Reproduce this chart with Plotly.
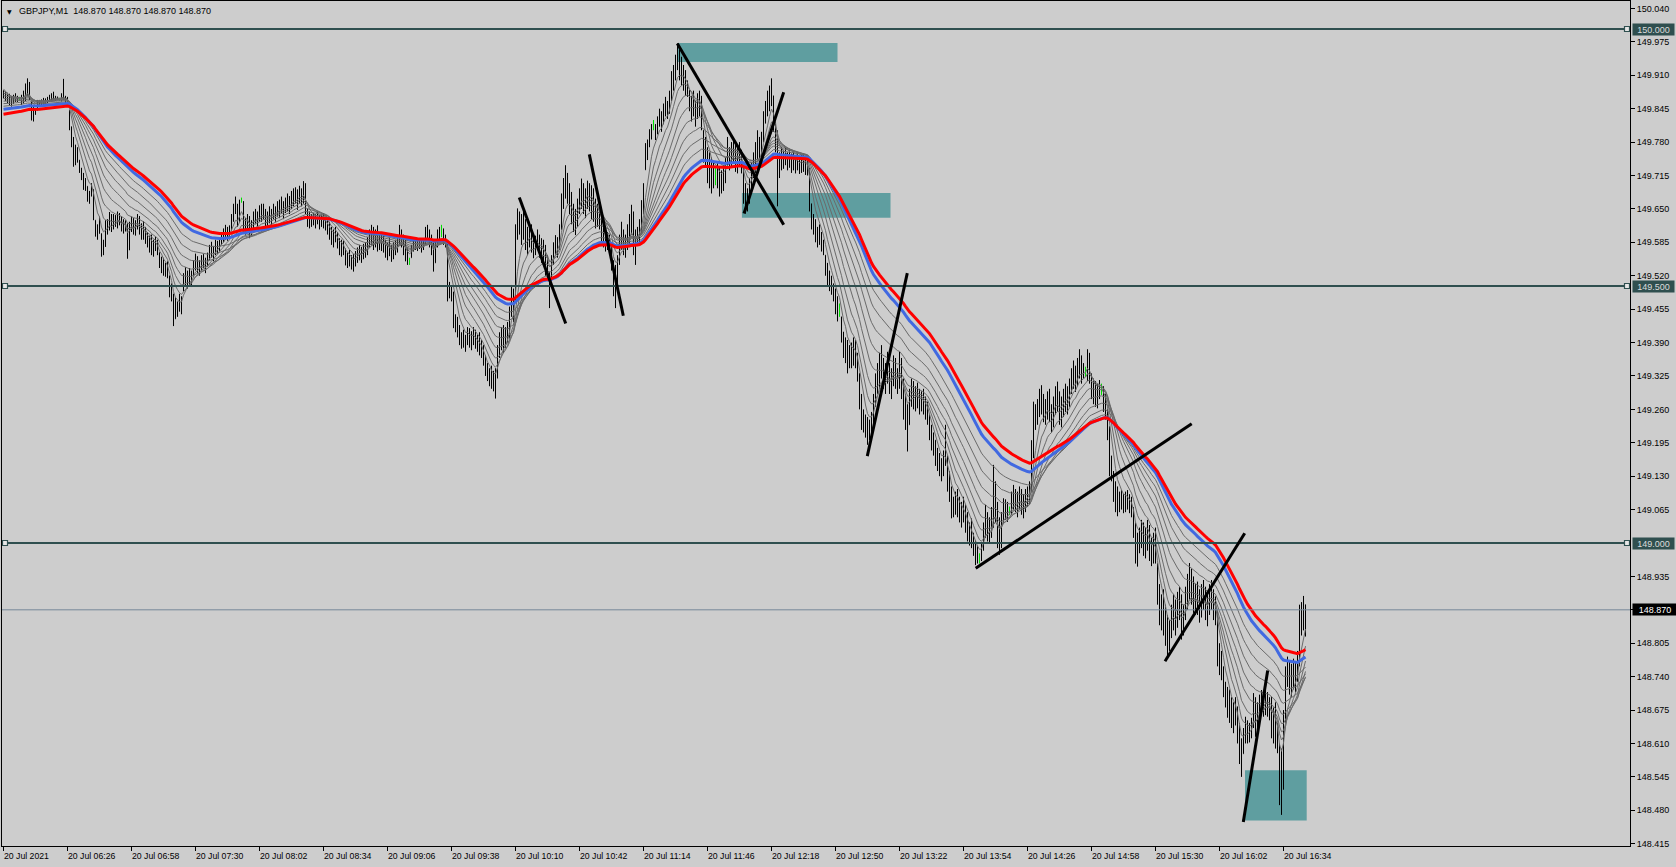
import plotly.graph_objects as go

# ---------------- data (prices in thousandths above 148.000) ----------------
BASE = 148.0
HI = [
1881,1878,1876,1874,1870,1872,1875,1870,1868,1872,
1880,1894,1904,1897,1858,1850,1846,1862,1862,1863,
1866,1865,1868,1872,1875,1878,1870,1868,1866,1875,
1903,1870,1868,1842,1810,1790,1775,1770,1745,1730,
1720,1710,1694,1685,1700,1688,1628,1620,1635,1602,
1590,1628,1630,1644,1640,1640,1638,1645,1642,1636,
1630,1628,1622,1625,1635,1632,1628,1640,1636,1622,
1626,1615,1605,1598,1600,1590,1596,1590,1565,1557,
1555,1545,1548,1520,1505,1485,1478,1470,1485,1480,
1525,1537,1530,1535,1530,1550,1563,1558,1550,1560,
1562,1555,1565,1580,1586,1578,1590,1588,1595,1605,
1612,1619,1615,1618,1640,1660,1674,1660,1668,1672,
1665,1632,1640,1636,1628,1645,1650,1645,1657,1660,
1660,1650,1645,1655,1650,1660,1655,1665,1668,1674,
1665,1672,1680,1675,1685,1690,1692,1688,1695,1690,
1704,1700,1650,1645,1640,1642,1640,1645,1638,1640,
1642,1635,1630,1625,1615,1610,1615,1605,1593,1590,
1588,1573,1565,1570,1560,1562,1568,1575,1580,1576,
1582,1585,1595,1610,1619,1615,1610,1618,1605,1600,
1598,1590,1585,1593,1580,1585,1590,1595,1619,1610,
1600,1590,1575,1555,1580,1590,1593,1590,1592,1588,
1590,1615,1619,1610,1600,1585,1590,1610,1615,1619,
1612,1600,1586,1508,1500,1489,1445,1440,1424,1410,
1415,1405,1420,1418,1412,1420,1415,1405,1410,1395,
1385,1365,1350,1340,1345,1335,1340,1385,1410,1420,
1424,1420,1430,1460,1502,1495,1620,1651,1645,1640,
1645,1630,1615,1625,1620,1600,1598,1610,1600,1593,
1590,1580,1560,1528,1560,1585,1599,1595,1620,1680,
1710,1735,1720,1700,1683,1660,1650,1670,1690,1709,
1700,1690,1705,1700,1696,1690,1670,1660,1655,1632,
1620,1610,1605,1600,1580,1550,1541,1560,1600,1625,
1610,1600,1620,1640,1658,1645,1610,1615,1630,1667,
1700,1778,1785,1805,1815,1823,1815,1830,1845,1840,
1855,1868,1860,1880,1918,1930,1950,1972,1960,1946,
1930,1920,1900,1881,1870,1880,1860,1875,1880,1870,
1803,1790,1770,1760,1750,1740,1732,1739,1730,1725,
1735,1750,1790,1770,1780,1785,1775,1770,1780,1765,
1730,1700,1690,1710,1740,1760,1780,1803,1790,1800,
1840,1860,1880,1890,1904,1870,1820,1803,1760,1770,
1765,1770,1760,1765,1758,1762,1755,1760,1752,1755,
1758,1750,1748,1730,1660,1640,1630,1615,1620,1605,
1590,1560,1545,1530,1520,1505,1495,1480,1466,1440,
1411,1400,1395,1385,1390,1400,1395,1370,1330,1290,
1260,1250,1245,1240,1255,1290,1330,1350,1370,1385,
1360,1350,1372,1350,1340,1365,1360,1340,1372,1360,
1320,1290,1270,1300,1320,1315,1305,1312,1300,1295,
1300,1285,1275,1250,1230,1215,1200,1185,1175,1165,
1180,1230,1170,1140,1110,1090,1100,1105,1090,1080,
1090,1075,1060,1040,1048,1020,1005,995,980,1000,
1040,1074,1060,1050,1070,1152,1120,1080,1050,1060,
1087,1085,1080,1071,1100,1113,1105,1100,1110,1105,
1095,1105,1110,1120,1200,1275,1270,1280,1300,1307,
1290,1280,1295,1300,1270,1285,1305,1314,1295,1285,
1300,1310,1305,1320,1340,1355,1345,1360,1377,1365,
1350,1343,1377,1370,1330,1320,1315,1310,1317,1310,
1305,1290,1260,1227,1170,1140,1120,1110,1100,1103,
1095,1100,1103,1095,1090,1070,1040,1020,1030,1045,
1040,1030,1045,1035,1010,1020,1030,960,920,900,
910,880,860,850,880,900,890,905,915,900,
880,915,940,961,950,935,920,925,910,920,
928,915,900,920,928,910,896,870,805,790,
760,730,720,715,700,690,700,682,650,620,
640,662,655,650,660,708,700,690,705,714,
710,712,710,700,701,680,690,650,610,600,
675,760,779,770,765,775,770,790,880,885,
897,880]
LO = [
1865,1860,1856,1852,1849,1855,1858,1858,1860,1852,
1855,1860,1870,1862,1822,1820,1833,1842,1849,1852,
1852,1853,1856,1858,1860,1862,1860,1862,1860,1859,
1862,1855,1850,1803,1770,1732,1735,1740,1720,1706,
1687,1685,1664,1660,1674,1628,1596,1590,1602,1557,
1560,1576,1600,1608,1605,1610,1615,1612,1618,1606,
1602,1606,1553,1570,1605,1600,1598,1610,1600,1590,
1590,1582,1575,1565,1560,1557,1568,1560,1535,1525,
1520,1518,1515,1478,1470,1422,1436,1440,1450,1445,
1490,1500,1495,1500,1498,1518,1530,1525,1520,1530,
1535,1525,1538,1550,1555,1548,1560,1562,1568,1580,
1585,1590,1588,1592,1608,1625,1640,1615,1625,1662,
1606,1600,1610,1593,1598,1612,1620,1612,1625,1625,
1630,1615,1610,1622,1618,1630,1625,1635,1632,1640,
1630,1642,1645,1640,1650,1655,1660,1648,1660,1655,
1660,1640,1615,1612,1615,1618,1612,1620,1610,1615,
1612,1608,1600,1590,1580,1575,1585,1573,1560,1557,
1560,1540,1535,1538,1532,1528,1538,1545,1550,1545,
1552,1555,1560,1575,1580,1570,1575,1567,1570,1568,
1565,1555,1550,1558,1547,1552,1560,1565,1580,1575,
1560,1548,1541,1541,1555,1567,1570,1568,1572,1565,
1570,1580,1590,1575,1560,1528,1545,1575,1585,1595,
1580,1575,1470,1476,1470,1418,1410,1400,1385,1378,
1380,1372,1385,1380,1375,1385,1378,1372,1365,1360,
1345,1325,1315,1305,1300,1295,1281,1320,1360,1375,
1370,1380,1390,1398,1440,1430,1470,1590,1600,1580,
1590,1570,1560,1575,1565,1554,1560,1570,1555,1545,
1540,1520,1510,1457,1510,1541,1560,1555,1570,1610,
1650,1670,1660,1640,1620,1605,1599,1615,1640,1650,
1640,1632,1650,1645,1630,1625,1612,1615,1610,1580,
1575,1567,1570,1560,1530,1480,1457,1500,1541,1570,
1560,1555,1570,1580,1600,1560,1541,1580,1585,1600,
1640,1726,1745,1770,1785,1803,1784,1795,1810,1800,
1815,1830,1825,1835,1860,1880,1900,1920,1900,1890,
1880,1870,1868,1840,1820,1830,1810,1825,1830,1803,
1740,1730,1700,1690,1680,1690,1696,1690,1674,1680,
1685,1700,1730,1725,1730,1740,1722,1719,1735,1719,
1660,1641,1645,1660,1690,1710,1720,1745,1730,1740,
1780,1816,1830,1840,1850,1800,1760,1655,1710,1725,
1728,1735,1725,1730,1720,1725,1719,1725,1718,1720,
1722,1716,1715,1645,1610,1600,1585,1575,1580,1567,
1560,1520,1500,1490,1483,1470,1445,1431,1440,1390,
1360,1350,1330,1340,1340,1345,1340,1314,1260,1220,
1215,1205,1191,1200,1210,1230,1265,1290,1300,1320,
1300,1290,1310,1290,1280,1305,1300,1290,1300,1280,
1240,1220,1178,1230,1265,1260,1256,1262,1250,1256,
1250,1240,1230,1200,1180,1170,1150,1140,1130,1120,
1130,1150,1100,1080,1048,1050,1055,1050,1040,1030,
1040,1020,1003,995,990,975,957,960,960,965,
985,1010,1003,1000,1010,1030,1040,990,977,990,
1040,1045,1041,1054,1055,1065,1060,1050,1065,1055,
1048,1060,1070,1075,1100,1165,1220,1230,1245,1250,
1235,1230,1240,1235,1215,1225,1250,1255,1230,1225,
1245,1255,1250,1265,1290,1300,1294,1305,1320,1310,
1320,1323,1315,1310,1280,1270,1265,1262,1280,1288,
1255,1240,1200,1130,1120,1080,1060,1052,1060,1065,
1058,1060,1065,1058,1050,1010,960,954,980,990,
975,970,985,965,955,960,960,880,840,830,
820,800,779,790,815,830,820,835,850,812,
820,850,870,890,880,864,860,860,845,855,
870,850,838,860,870,850,840,760,743,733,
700,680,660,650,640,630,645,610,570,545,
590,610,610,612,620,640,623,630,655,670,
662,665,662,655,620,610,600,591,490,471,
520,650,720,705,701,715,710,730,760,820,
830,818]
CL = [
1872,1866,1862,1858,1855,1866,1862,1864,1864,1860,
1876,1885,1880,1866,1830,1838,1840,1858,1855,1860,
1862,1858,1865,1868,1870,1866,1868,1865,1865,1870,
1868,1860,1855,1810,1778,1745,1760,1750,1728,1712,
1695,1700,1670,1678,1690,1640,1605,1600,1615,1565,
1582,1615,1622,1630,1612,1632,1620,1638,1625,1612,
1620,1610,1568,1615,1628,1610,1620,1632,1605,1610,
1598,1595,1580,1590,1568,1578,1585,1565,1540,1548,
1528,1535,1520,1485,1478,1435,1448,1462,1458,1470,
1515,1510,1522,1508,1525,1540,1552,1535,1545,1555,
1540,1548,1558,1570,1562,1572,1582,1575,1590,1598,
1592,1610,1600,1612,1635,1650,1645,1622,1664,1664,
1615,1625,1618,1605,1620,1638,1628,1640,1635,1650,
1638,1630,1640,1632,1645,1640,1650,1645,1660,1648,
1655,1662,1652,1668,1660,1680,1668,1675,1685,1668,
1690,1650,1635,1625,1632,1628,1635,1630,1622,1632,
1620,1625,1610,1598,1588,1600,1592,1580,1568,1580,
1565,1548,1555,1545,1550,1540,1560,1565,1572,1560,
1575,1570,1588,1598,1590,1605,1585,1600,1580,1590,
1575,1568,1575,1565,1560,1572,1568,1585,1600,1590,
1570,1560,1550,1550,1575,1582,1578,1585,1580,1575,
1585,1605,1598,1585,1570,1540,1580,1600,1605,1605,
1590,1585,1480,1490,1478,1430,1425,1412,1395,1400,
1388,1392,1410,1395,1400,1405,1390,1385,1375,1370,
1355,1335,1322,1330,1310,1318,1325,1370,1395,1385,
1410,1400,1420,1450,1490,1470,1600,1630,1615,1625,
1605,1585,1595,1610,1580,1570,1588,1585,1565,1580,
1555,1545,1525,1500,1550,1575,1580,1590,1610,1665,
1690,1700,1680,1660,1640,1625,1640,1655,1675,1690,
1665,1675,1695,1660,1680,1650,1630,1645,1625,1600,
1590,1585,1580,1575,1545,1500,1520,1545,1585,1590,
1575,1590,1600,1620,1630,1580,1590,1600,1615,1650,
1690,1760,1775,1795,1810,1810,1800,1822,1835,1815,
1845,1850,1840,1870,1900,1915,1935,1940,1920,1905,
1910,1885,1880,1850,1860,1840,1830,1865,1845,1815,
1760,1750,1720,1740,1700,1725,1725,1720,1700,1710,
1728,1735,1760,1745,1770,1755,1740,1760,1745,1730,
1680,1660,1675,1700,1725,1740,1765,1780,1750,1790,
1825,1850,1845,1875,1880,1815,1775,1720,1735,1750,
1755,1745,1750,1740,1748,1735,1745,1740,1730,1745,
1735,1740,1725,1660,1625,1615,1600,1605,1590,1580,
1570,1535,1510,1505,1495,1480,1460,1455,1455,1400,
1380,1390,1350,1370,1355,1375,1360,1330,1275,1240,
1235,1220,1210,1230,1245,1275,1310,1325,1340,1335,
1320,1340,1330,1305,1325,1345,1320,1310,1350,1300,
1260,1250,1230,1280,1300,1280,1295,1285,1270,1285,
1265,1260,1245,1215,1195,1200,1170,1160,1150,1140,
1170,1160,1120,1095,1060,1075,1065,1085,1055,1060,
1050,1035,1015,1010,1000,985,975,972,972,990,
1030,1050,1020,1040,1025,1100,1060,1010,1000,1040,
1075,1060,1065,1065,1085,1090,1070,1085,1095,1075,
1080,1090,1100,1110,1180,1250,1240,1265,1285,1270,
1250,1265,1280,1250,1240,1270,1290,1275,1250,1270,
1285,1295,1280,1305,1320,1335,1310,1345,1350,1330,
1335,1335,1360,1325,1300,1295,1285,1300,1298,1298,
1270,1265,1215,1150,1135,1095,1075,1070,1085,1080,
1075,1090,1080,1070,1065,1030,980,1000,1010,1020,
1000,1010,1025,980,970,1005,975,900,860,870,
845,825,810,830,850,870,840,880,870,835,
860,890,910,920,900,885,895,880,870,900,
890,865,870,905,885,880,860,780,760,750,
715,690,700,670,660,675,660,630,590,575,
620,640,625,640,650,690,650,675,695,700,
690,705,685,680,640,660,630,610,520,560,
650,740,750,725,750,740,755,770,860,840,
880,870]
OPEN0 = 1868
DOJI = [8, 28, 119, 203, 219, 325, 356, 418, 488, 503, 541, 549]

GREY_PERIODS = [6, 10, 15, 21, 28, 36, 45, 55]
GREY_START = [1888, 1882, 1876, 1870, 1864, 1859, 1854, 1849]
BLUE_PERIOD, BLUE_START = 67, 1843
RED_PERIOD, RED_START = 75, 1833

LEVELS = [150.000, 149.500, 149.000]
LAST_PRICE = 148.870
SYMBOL_TEXT = "GBPJPY,M1\u00a0\u00a0148.870 148.870 148.870 148.870"

Y_TICKS = [148.415, 148.480, 148.545, 148.610, 148.675, 148.740, 148.805, 148.870,
           148.935, 149.065, 149.130, 149.195, 149.260, 149.325, 149.390,
           149.455, 149.520, 149.585, 149.650, 149.715, 149.780, 149.845, 149.910,
           149.975, 150.040]
X_TICK_LABELS = ["20 Jul 2021", "20 Jul 06:26", "20 Jul 06:58", "20 Jul 07:30", "20 Jul 08:02",
                 "20 Jul 08:34", "20 Jul 09:06", "20 Jul 09:38", "20 Jul 10:10", "20 Jul 10:42",
                 "20 Jul 11:14", "20 Jul 11:46", "20 Jul 12:18", "20 Jul 12:50", "20 Jul 13:22",
                 "20 Jul 13:54", "20 Jul 14:26", "20 Jul 14:58", "20 Jul 15:30", "20 Jul 16:02",
                 "20 Jul 16:34"]
X_TICK_STEP = 32  # bars (minutes) between time labels

# drawn objects: (bar0, price0, bar1, price1)
ZONES = [(337.1, 149.936, 417.0, 149.973),
         (369.2, 149.633, 443.5, 149.681),
         (620.75, 148.460, 651.6, 148.558)]
TRENDLINES = [(336.9, 149.972, 390.1, 149.619),
              (370.25, 149.641, 390.1, 149.877),
              (257.9, 149.672, 281.1, 149.427),
              (292.9, 149.756, 309.9, 149.442),
              (431.9, 149.169, 451.9, 149.525),
              (486.1, 148.951, 594.1, 149.232),
              (580.75, 148.770, 620.6, 149.019),
              (619.9, 148.457, 632.1, 148.752)]

assert len(HI) == len(LO) == len(CL), (len(HI), len(LO), len(CL))
N = len(CL)

# ---------------- derived series ----------------
hi = [BASE + v / 1000 for v in HI]
lo = [BASE + v / 1000 for v in LO]
cl = [BASE + v / 1000 for v in CL]
op = []
prev = BASE + OPEN0 / 1000
for i in range(N):
    op.append(min(max(prev, lo[i]), hi[i]))
    prev = cl[i]


def ema(values, period, start):
    a = 2.0 / (period + 1)
    out, e = [], BASE + start / 1000
    for v in values:
        e = e + a * (v - e)
        out.append(e)
    return out


BG = "#cdcdcd"
FONT = "Liberation Sans"
fig = go.Figure()

doji_set = set(DOJI)
idx_main = [i for i in range(N) if i not in doji_set]
fig.add_trace(go.Ohlc(
    x=idx_main, open=[op[i] for i in idx_main], high=[hi[i] for i in idx_main],
    low=[lo[i] for i in idx_main], close=[cl[i] for i in idx_main],
    increasing=dict(line=dict(color="black", width=1)),
    decreasing=dict(line=dict(color="black", width=1)),
    tickwidth=0.25, hoverinfo="skip", showlegend=False))
gaps = [b - a for a, b in zip(DOJI[:-1], DOJI[1:])]
fig.add_trace(go.Ohlc(
    x=DOJI, open=[op[i] for i in DOJI], high=[hi[i] for i in DOJI],
    low=[lo[i] for i in DOJI], close=[cl[i] for i in DOJI],
    increasing=dict(line=dict(color="#00e000", width=1)),
    decreasing=dict(line=dict(color="#00e000", width=1)),
    tickwidth=0.25 / min(gaps), hoverinfo="skip", showlegend=False))

xs = list(range(N))
for p, s in zip(GREY_PERIODS, GREY_START):
    fig.add_trace(go.Scatter(x=xs, y=ema(cl, p, s), mode="lines",
                             line=dict(color="#6a6a6a", width=1),
                             hoverinfo="skip", showlegend=False))
fig.add_trace(go.Scatter(x=xs, y=ema(cl, BLUE_PERIOD, BLUE_START), mode="lines",
                         line=dict(color="#4169E1", width=3), hoverinfo="skip", showlegend=False))
fig.add_trace(go.Scatter(x=xs, y=ema(cl, RED_PERIOD, RED_START), mode="lines",
                         line=dict(color="#FF0000", width=3), hoverinfo="skip", showlegend=False))

shapes = []
for x0, y0, x1, y1 in ZONES:
    shapes.append(dict(type="rect", xref="x", yref="y", x0=x0, x1=x1, y0=y0, y1=y1,
                       fillcolor="#5F9EA0", line=dict(width=0), layer="below"))
shapes.append(dict(type="line", xref="paper", yref="y", x0=0, x1=1, y0=LAST_PRICE, y1=LAST_PRICE,
                   line=dict(color="#778899", width=1), layer="above"))
for lv in LEVELS:
    shapes.append(dict(type="line", xref="paper", yref="y", x0=0, x1=1, y0=lv, y1=lv,
                       line=dict(color="#2F4F4F", width=2), layer="above"))
for x0, y0, x1, y1 in TRENDLINES:
    shapes.append(dict(type="line", xref="x", yref="y", x0=x0, x1=x1, y0=y0, y1=y1,
                       line=dict(color="black", width=3), layer="above"))
for lv in LEVELS:
    for xa in (0.75, 811.75):
        shapes.append(dict(type="rect", xref="x", yref="y", xsizemode="pixel", ysizemode="pixel",
                           xanchor=xa, yanchor=lv, x0=-2.5, x1=2.5, y0=-2.5, y1=2.5,
                           fillcolor="#e6e6e6", line=dict(color="#2F4F4F", width=1.2),
                           layer="above"))

ann = []
for k, lab in enumerate(X_TICK_LABELS):
    ann.append(dict(x=k * X_TICK_STEP, xref="x", y=0, yref="paper", text=lab, showarrow=False,
                    xanchor="left", yanchor="top", xshift=-2, yshift=-3,
                    font=dict(family=FONT, size=8.7, color="black")))
for lv in LEVELS:
    ann.append(dict(x=1, xref="paper", y=lv, yref="y", text=f"{lv:.3f}", showarrow=False,
                    xanchor="left", yanchor="middle", xshift=1.5, width=41, height=11,
                    bgcolor="#2F4F4F", borderpad=0, font=dict(family=FONT, size=9, color="#dcdcdc")))
ann.append(dict(x=1, xref="paper", y=LAST_PRICE, yref="y", text=f"{LAST_PRICE:.3f}", showarrow=False,
                xanchor="left", yanchor="middle", xshift=1.5, width=44, height=11,
                bgcolor="black", borderpad=0, font=dict(family=FONT, size=9, color="white")))
ann.append(dict(x=0, xref="paper", y=1, yref="paper", text="\u25BC", showarrow=False,
                xanchor="left", yanchor="top", xshift=3, yshift=-5,
                font=dict(family="DejaVu Sans", size=6, color="black")))
ann.append(dict(x=0, xref="paper", y=1, yref="paper", text=SYMBOL_TEXT, showarrow=False,
                xanchor="left", yanchor="top", xshift=15, yshift=-3,
                font=dict(family=FONT, size=9, color="black")))

fig.update_layout(
    width=1676, height=867, autosize=False,
    margin=dict(l=2, r=46, t=1, b=21, pad=0),
    paper_bgcolor=BG, plot_bgcolor=BG,
    showlegend=False, shapes=shapes, annotations=ann,
    font=dict(family=FONT, size=9, color="black"),
    xaxis=dict(range=[-0.75, 813.25], rangeslider=dict(visible=False), showgrid=False,
               zeroline=False, showline=True, linecolor="black", linewidth=1, mirror=True,
               tickvals=[k * X_TICK_STEP for k in range(len(X_TICK_LABELS))],
               showticklabels=False, ticks="outside", ticklen=4, tickcolor="black", tickwidth=1),
    yaxis=dict(range=[148.4105, 150.05447], side="right", showgrid=False, zeroline=False,
               showline=True, linecolor="black", linewidth=1, mirror=True,
               tickvals=Y_TICKS, ticktext=[f"{v:.3f}" for v in Y_TICKS],
               ticks="outside", ticklen=4, tickcolor="black", tickwidth=1,
               tickfont=dict(family=FONT, size=9, color="black")),
)

fig.write_html("out.html", config={"displayModeBar": False},
               post_script="document.body.style.margin='0';")
